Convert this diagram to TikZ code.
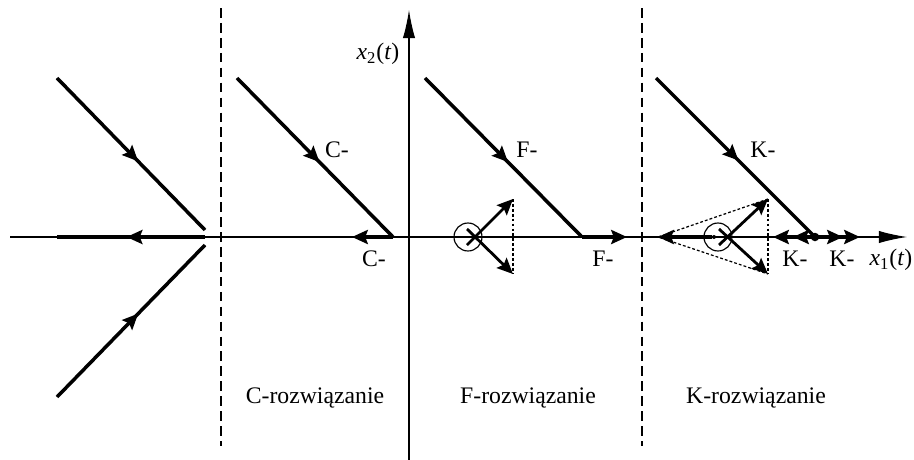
\documentclass[tikz,border=0pt]{standalone}
\usepackage{fontspec}
\setmainfont{Liberation Serif}
\usetikzlibrary{arrows.meta, decorations.markings, calc}
\tikzset{
  axx/.style     = {line width=0.65pt, black, -{Latex[length=16pt, width=7pt]}},
  traj/.style    = {line width=2pt, black},
  midarr/.style  = {postaction={decorate}, decoration={markings, mark=at position #1 with {\arrow{Stealth[length=9pt, width=8pt, inset=1.5pt]}}}},
  flow/.style    = {traj, -{Stealth[length=9pt, width=8pt, inset=1.5pt]}},
  thinflow/.style= {line width=1.6pt, black, -{Stealth[length=9pt, width=8pt, inset=1.5pt]}},
  sepline/.style = {line width=0.65pt, dash pattern=on 5.5pt off 3pt},
  helper/.style  = {line width=0.7pt, dash pattern=on 1.6pt off 1.2pt},
  ring/.style    = {circle, draw, line width=0.65pt, minimum size=0.56cm, inner sep=0pt},
  eqpt/.style    = {circle, fill, inner sep=0pt, minimum size=#1},
  lbl/.style     = {font=\fontsize{13.5}{16}\selectfont, inner sep=0pt},
}

\begin{document}
\begin{tikzpicture}[x=0.02cm, y=-0.02cm]
  \useasboundingbox (0,0) rectangle (914,460);

  % axes
  \coordinate (xs) at (10,237);  \coordinate (xe) at (907,237);
  \coordinate (ys) at (409,460); \coordinate (ye) at (409,10);
  \draw[axx] (xs) -- (xe);
  \draw[axx] (ys) -- (ye);
  \node[lbl] (x1lab) at (891,260) {\textit{x}\textsubscript{1}(\textit{t})};
  \node[lbl] (x2lab) at (378,54) {\textit{x}\textsubscript{2}(\textit{t})};

  % region borders
  \coordinate (s1t) at (221,8); \coordinate (s1b) at (221,446);
  \coordinate (s2t) at (642,8); \coordinate (s2b) at (642,446);
  \draw[sepline] (s1t) -- (s1b);
  \draw[sepline] (s2t) -- (s2b);

  % left part
  \coordinate (lu) at (57,78);  \coordinate (lu1) at (205,230);
  \coordinate (ld) at (57,397); \coordinate (ld1) at (205,245);
  \coordinate (l0) at (205,237); \coordinate (lh) at (57,237);
  \draw[traj, midarr=0.55] (lu) -- (lu1);
  \draw[traj, midarr=0.55] (ld) -- (ld1);
  \draw[traj, midarr=0.53] (l0) -- (lh);

  % C-rozwiazanie
  \coordinate (cu) at (237,78); \coordinate (c0) at (393,237);
  \coordinate (ce) at (352,237);
  \draw[traj, midarr=0.53] (cu) -- (c0);
  \draw[flow] (c0) -- (ce);
  \node[lbl] (cl1) at (337,150) {C-};
  \node[lbl] (cl2) at (374,259) {C-};
  \node[lbl] (cname) at (315,398) {C-rozwiązanie};

  % F-rozwiazanie
  \coordinate (fu) at (425,78); \coordinate (f0) at (582,237);
  \coordinate (fe) at (627,237);
  \draw[traj, midarr=0.53] (fu) -- (f0);
  \draw[flow] (f0) -- (fe);
  \node[ring] (fring) at (468,237) {};
  \coordinate (fa0) at (467,245); \coordinate (fa) at (513,199);
  \coordinate (fb0) at (467,229); \coordinate (fb) at (513,274);
  \draw[thinflow] (fa0) -- (fa);
  \draw[thinflow] (fb0) -- (fb);
  \draw[helper] (fa) -- (fb);
  \node[lbl] (fl1) at (527,150) {F-};
  \node[lbl] (fl2) at (603,259) {F-};
  \node[lbl] (fname) at (528,398) {F-rozwiązanie};

  % K-rozwiazanie
  \coordinate (ku) at (656,78); \coordinate (k0) at (815,237);
  \draw[traj, midarr=0.52] (ku) -- (k0);
  \coordinate (kl1) at (793,237); \coordinate (kl2) at (773,237);
  \coordinate (kr1) at (843,237); \coordinate (kr2) at (860,237);
  \draw[flow] (k0) -- (kl1);
  \draw[flow] (k0) -- (kl2);
  \draw[flow] (k0) -- (kr1);
  \draw[flow] (k0) -- (kr2);
  \node[eqpt=0.17cm] (kdot) at (k0) {};
  \node[ring] (kring) at (718,237) {};
  \node[eqpt=0.08cm] (kc) at (714,237) {};
  \coordinate (kl) at (658,237);
  \draw[flow] (kc) -- (kl);
  \coordinate (ka0) at (719,245); \coordinate (ka) at (768,199);
  \coordinate (kb0) at (719,229); \coordinate (kb) at (768,274);
  \draw[thinflow] (ka0) -- (ka);
  \draw[thinflow] (kb0) -- (kb);
  \draw[helper] (ka) -- (kb);
  \draw[helper] (ka) -- (kl) -- (kb);
  \node[lbl] (kl1lab) at (763,150) {K-};
  \node[lbl] (kl2lab) at (795,259) {K-};
  \node[lbl] (kl3lab) at (842,259) {K-};
  \node[lbl] (kname) at (756,398) {K-rozwiązanie};
\end{tikzpicture}
\end{document}
